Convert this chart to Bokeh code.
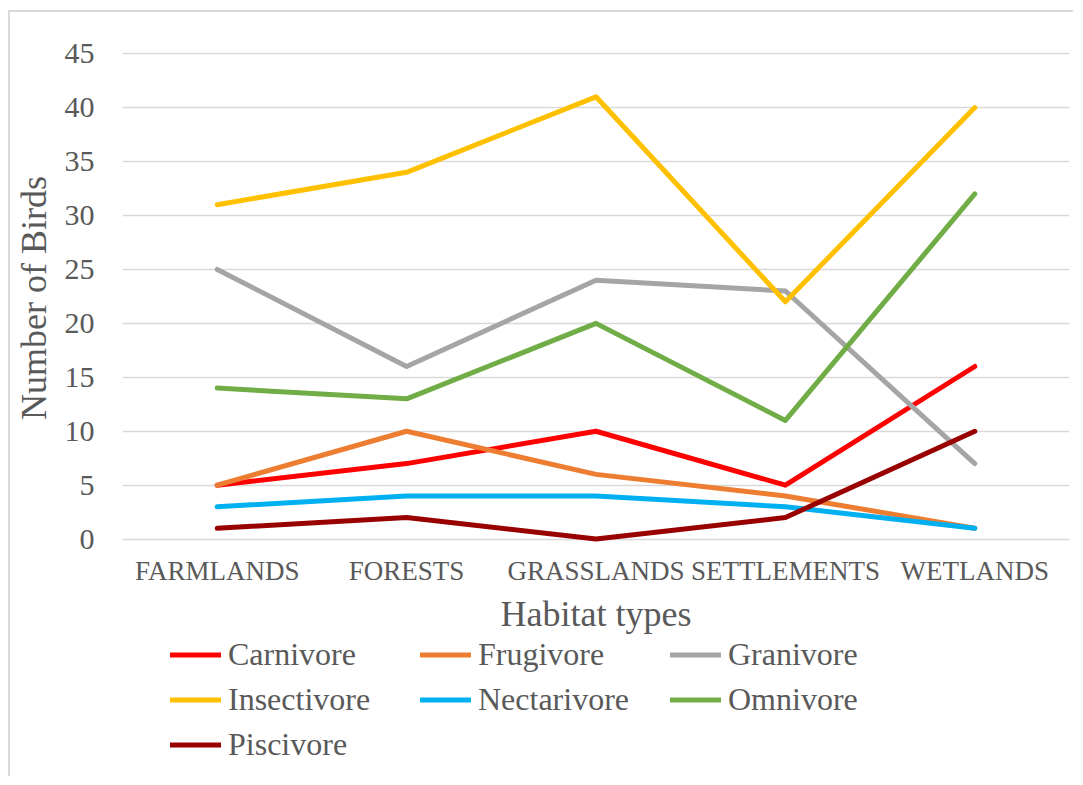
from bokeh.plotting import figure
from bokeh.models import FactorRange, Range1d, FixedTicker, Legend, LegendItem
from bokeh.layouts import column
from bokeh.embed import file_html
from bokeh.resources import INLINE

habitats = ["FARMLANDS", "FORESTS", "GRASSLANDS", "SETTLEMENTS", "WETLANDS"]
carnivore = [5, 7, 10, 5, 16]
frugivore = [5, 10, 6, 4, 1]
granivore = [25, 16, 24, 23, 7]
insectivore = [31, 34, 41, 22, 40]
nectarivore = [3, 4, 4, 3, 1]
omnivore = [14, 13, 20, 11, 32]
piscivore = [1, 2, 0, 2, 10]
y_ticks = [0, 5, 10, 15, 20, 25, 30, 35, 40, 45]

series = [
    ("Carnivore", carnivore, "#FF0000"),
    ("Frugivore", frugivore, "#ED7D31"),
    ("Granivore", granivore, "#A5A5A5"),
    ("Insectivore", insectivore, "#FFC000"),
    ("Nectarivore", nectarivore, "#00B0F0"),
    ("Omnivore", omnivore, "#70AD47"),
    ("Piscivore", piscivore, "#990000"),
]

FONT = "Liberation Serif"
TXT = "#595959"
W = 1063

p = figure(
    x_range=FactorRange(factors=habitats),
    y_range=Range1d(-0.5, 45.2),
    width=W, height=624,
    min_border_left=111, min_border_right=4,
    min_border_top=39, min_border_bottom=92,
    output_backend="svg", toolbar_location=None,
)
p.outline_line_color = None

for name, vals, col in series:
    p.line(habitats, vals, line_color=col, line_width=5,
           line_cap="round", line_join="round")

p.xgrid.grid_line_color = None
p.ygrid.grid_line_color = "#d9d9d9"
p.ygrid.grid_line_width = 1.5

p.yaxis.ticker = FixedTicker(ticks=y_ticks)
p.yaxis.minor_tick_line_color = None
for ax in (p.xaxis[0], p.yaxis[0]):
    ax.axis_line_color = None
    ax.major_tick_line_color = None
    ax.major_tick_out = 0
    ax.major_tick_in = 0
    ax.major_label_text_font = FONT
    ax.major_label_text_color = TXT
    ax.axis_label_text_font = FONT
    ax.axis_label_text_color = TXT
    ax.axis_label_text_font_style = "normal"

p.yaxis.major_label_text_font_size = "30px"
p.yaxis.major_label_standoff = 28
p.yaxis.axis_label = "Number of Birds"
p.yaxis.axis_label_text_font_size = "36px"
p.yaxis.axis_label_standoff = 8

p.xaxis.major_label_text_font_size = "27px"
p.xaxis.major_label_standoff = 11
p.xaxis.axis_label = "Habitat types"
p.xaxis.axis_label_text_font_size = "36px"
p.xaxis.axis_label_standoff = 5

# legend strip: same series, data kept outside this strip's visible y range
lf = figure(
    x_range=FactorRange(factors=habitats), y_range=Range1d(100, 101),
    width=W, height=140, min_border=0,
    x_axis_location=None, y_axis_location=None,
    output_backend="svg", toolbar_location=None,
)
lf.outline_line_color = None
lf.grid.grid_line_color = None
items = []
for name, vals, col in series:
    r = lf.line(habitats, vals, line_color=col, line_width=5,
                line_cap="round", line_join="round")
    items.append(LegendItem(label=name, renderers=[r]))

legend = Legend(
    items=items, location=(48, 13), orientation="horizontal", ncols=3,
    glyph_width=51, glyph_height=35, label_height=35, label_width=184,
    label_standoff=7, spacing=8, padding=0, margin=0,
    border_line_color=None, background_fill_alpha=0,
    label_text_font=FONT, label_text_font_size="32px", label_text_color=TXT,
)
lf.add_layout(legend, "center")

layout = column(p, lf, spacing=0)
layout.margin = (10, 0, 0, 8)
layout.styles = {"border-left": "2px solid #d9d9d9", "border-top": "2px solid #d9d9d9"}

open("out.html", "w").write(file_html(layout, INLINE))
